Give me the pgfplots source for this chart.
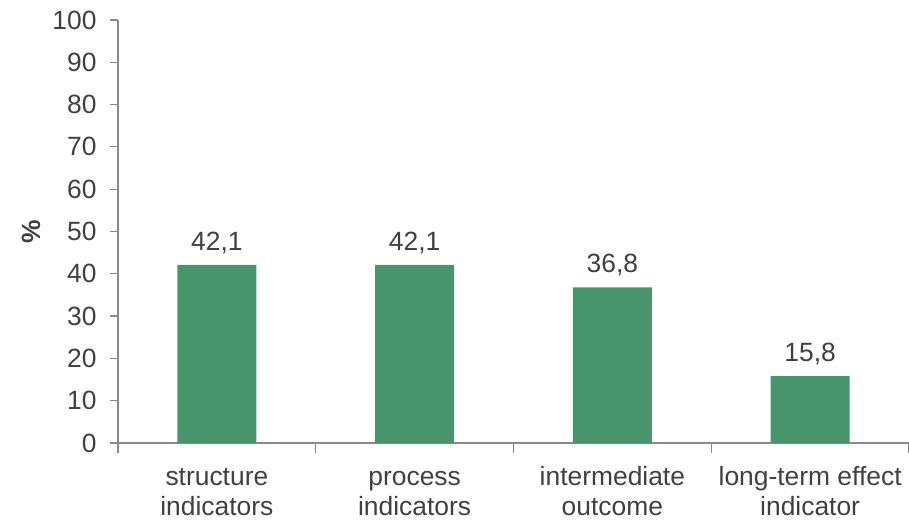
\documentclass[border=0pt]{standalone}
\usepackage{pgfplots}
\pgfplotsset{compat=1.18}
\usepackage{fontspec}
\setmainfont{Liberation Sans}
\definecolor{bargreen}{HTML}{48956B}
\definecolor{axgray}{HTML}{898989}
\definecolor{txt}{HTML}{404040}
\begin{document}
\begin{tikzpicture}
\begin{axis}[
  scale only axis,
  width=791bp, height=423bp,
  xmin=-0.5, xmax=3.5,
  ymin=0, ymax=100,
  axis lines*=left,
  axis line style={axgray, line width=1.2bp},
  ytick={0,10,...,100},
  xtick={0,1,2,3},
  xticklabels={{\strut structure\\indicators},{\strut process\\indicators},{\strut intermediate\\outcome},{\strut long-term effect\\indicator}},
  minor xtick={-0.5,0.5,1.5,2.5,3.5},
  tick align=outside,
  major tick length=8bp,
  minor tick length=10bp,
  tick style={axgray, line width=1.2bp},
  xtick style={draw=none},
  minor x tick style={draw=axgray, line width=1.2bp},
  /pgf/number format/assume math mode=true,
  ticklabel style={font=\fontsize{26.5}{30}\selectfont, text=txt},
  yticklabel style={xshift=-10bp},
  xticklabel style={align=center, font=\fontsize{26.5}{29.5}\selectfont, text=txt, yshift=-12bp, inner sep=2bp},
  ybar, bar width=0.4,
  nodes near coords,
  nodes near coords style={font=\fontsize{26.5}{30}\selectfont, text=txt, yshift=8bp,
    /pgf/number format/use comma, /pgf/number format/fixed, /pgf/number format/fixed zerofill, /pgf/number format/precision=1, /pgf/number format/assume math mode=true},
  clip=false,
]
\addplot[fill=bargreen, draw=none] coordinates {(0,42.1) (1,42.1) (2,36.8) (3,15.8)};
\node[xshift=-87bp, rotate=90, font=\fontsize{26.5}{30}\selectfont\bfseries, text=txt, anchor=center] at (rel axis cs:0,0.5) {\%};
\coordinate (sw) at (rel axis cs:0,0);
\coordinate (ne) at (rel axis cs:1,1);
\end{axis}
\pgfresetboundingbox
\path ([xshift=-118bp,yshift=-77bp]sw) rectangle ([yshift=20bp]ne);
\end{tikzpicture}
\end{document}
